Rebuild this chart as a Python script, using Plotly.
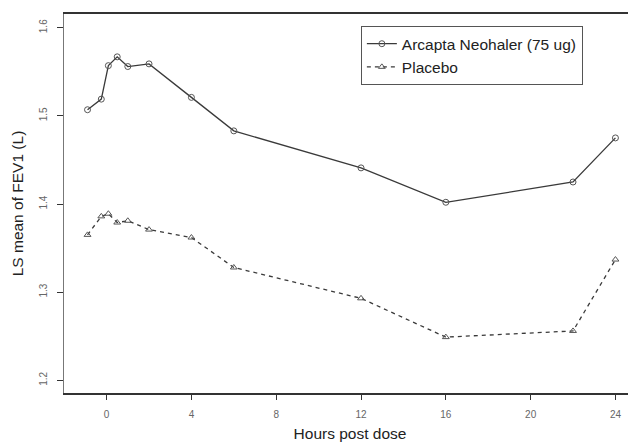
import plotly.graph_objects as go

hours = [-0.9, -0.25, 0.083, 0.5, 1, 2, 4, 6, 12, 16, 22, 24]
arcapta = [1.507, 1.519, 1.557, 1.567, 1.556, 1.559, 1.521, 1.483, 1.441, 1.402, 1.425, 1.475]
placebo = [1.365, 1.386, 1.389, 1.379, 1.381, 1.371, 1.362, 1.328, 1.293, 1.249, 1.256, 1.337]
x_ticks = [0, 4, 8, 12, 16, 20, 24]
y_ticks = [1.2, 1.3, 1.4, 1.5, 1.6]

font_family = "Liberation Sans, Arial, sans-serif"

fig = go.Figure()
fig.add_trace(go.Scatter(
    x=hours, y=arcapta, mode="lines+markers", name="Arcapta Neohaler (75 ug)",
    line=dict(color="#3a3a3a", width=1.3),
    marker=dict(symbol="circle-open", size=6, color="#555555", line=dict(width=1)),
))
fig.add_trace(go.Scatter(
    x=hours, y=placebo, mode="lines+markers", name="Placebo",
    line=dict(color="#3a3a3a", width=1.3, dash="4px,4px"),
    marker=dict(symbol="triangle-up-open", size=6, color="#555555", line=dict(width=1)),
))

# The page body has an 8px default margin, so the figure is offset by 8px.
fig.update_layout(
    width=628, height=434,
    margin=dict(l=56, r=0, t=6, b=49),
    paper_bgcolor="white", plot_bgcolor="white",
    font=dict(family=font_family, color="#222222"),
    showlegend=True,
    legend=dict(
        x=0.519, y=0.968, xanchor="left", yanchor="top",
        bordercolor="#555555", borderwidth=1, bgcolor="white",
        font=dict(size=15.5, color="#222222"),
        tracegroupgap=0, itemwidth=30,
    ),
    xaxis=dict(
        range=[-2.01, 24.97], tickvals=x_ticks, ticktext=[str(v) for v in x_ticks],
        showgrid=False, zeroline=False, showline=True, mirror=True,
        linecolor="#333333", linewidth=2, automargin=False,
        ticks="outside", ticklen=5, tickcolor="#333333", ticklabelstandoff=6,
        tickfont=dict(size=10, color="#666666"),
        title=dict(text="Hours post dose", font=dict(size=15.5, color="#222222"), standoff=13),
    ),
    yaxis=dict(
        range=[1.1856, 1.6156], tickvals=y_ticks, ticktext=[f"{v:.1f}" for v in y_ticks],
        showgrid=False, zeroline=False, showline=True, mirror=False,
        linecolor="#777777", linewidth=1, automargin=False,
        ticks="outside", ticklen=6, tickcolor="#333333", ticklabelstandoff=6,
        tickangle=-90,
        tickfont=dict(size=10, color="#666666"),
        title=dict(text="LS mean of FEV1 (L)", font=dict(size=15.5, color="#222222"), standoff=10),
    ),
)

fig.write_html("out.html")
